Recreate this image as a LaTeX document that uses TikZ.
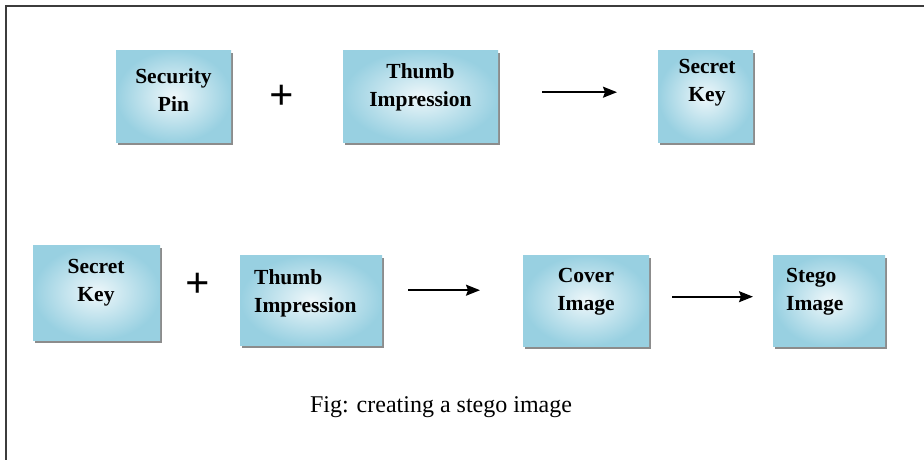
\documentclass[tikz,border=0pt]{standalone}
\usepackage{fontspec}
\setmainfont{Liberation Serif}
\usetikzlibrary{arrows.meta,shadows}
\definecolor{boxdark}{RGB}{152,208,225}
\definecolor{boxlight}{RGB}{238,247,250}
\definecolor{framegray}{RGB}{60,60,60}
\tikzset{
  stepbox/.style={draw=none, inner sep=0pt, anchor=north west,
    inner color=boxlight, outer color=boxdark,
    drop shadow={shadow xshift=1.5pt, shadow yshift=-3pt, fill=black!45, opacity=1}},
  boxtext/.style={font=\fontsize{21.5}{28}\selectfont\bfseries, inner sep=0pt, anchor=north},
  boxtextl/.style={font=\fontsize{21.5}{28}\selectfont\bfseries, inner sep=0pt, anchor=north west, align=left},
  plussign/.style={font=\fontsize{43}{43}\selectfont\bfseries, inner sep=0pt},
  flow/.style={line width=1.6pt, -{Stealth[length=14pt,width=11pt,inset=2pt]}},
}
\begin{document}
\begin{tikzpicture}[x=1pt,y=-1pt]
\useasboundingbox (0,0) rectangle (924,460);
\fill[white] (0,0) rectangle (924,460);
\draw[framegray, line width=2pt] (6,461) coordinate (fb) -- (6,6) coordinate (fc) -- (925,6) coordinate (fr);

% top row
\node[stepbox, minimum width=115pt, minimum height=92pt] (pin) at (116,50) {};
\node[boxtext, align=center] (pint) at (173.5,68) {Security\\Pin};
\node[plussign] (plus1) at (282,97) {+};
\node[stepbox, minimum width=155pt, minimum height=92pt] (thumb1) at (343,50) {};
\node[boxtext, align=center] (thumb1t) at (420.5,63) {Thumb\\Impression};
\node[stepbox, minimum width=95pt, minimum height=92pt] (key1) at (658,50) {};
\node[boxtext, align=center] (key1t) at (707,59) {Secret\\Key};
\draw[flow] ([xshift=44pt,yshift=4pt]thumb1.east) -- ([xshift=-41pt,yshift=4pt]key1.west);

% bottom row
\node[stepbox, minimum width=127pt, minimum height=95pt] (key2) at (33,245) {};
\node[boxtext, align=center] (key2t) at (96,259) {Secret\\Key};
\node[plussign] (plus2) at (198,285) {+};
\node[stepbox, minimum width=142pt, minimum height=90pt] (thumb2) at (240,255) {};
\node[boxtextl] (thumb2t) at (254,269) {Thumb\\Impression};
\node[stepbox, minimum width=126pt, minimum height=91pt] (cover) at (523,255) {};
\node[boxtext, align=center] (covert) at (586,268) {Cover\\Image};
\node[stepbox, minimum width=112pt, minimum height=91pt] (stego) at (773,255) {};
\node[boxtextl] (stegot) at (786,268) {Stego\\Image};
\draw[flow] ([xshift=26pt,yshift=10pt]thumb2.east) -- ([xshift=-43pt,yshift=10.5pt]cover.west);
\draw[flow] ([xshift=23pt,yshift=4pt]cover.east) -- ([xshift=-20pt,yshift=4pt]stego.west);

% caption
\node[font=\fontsize{24}{28}\selectfont, inner sep=0pt, anchor=base] (cap) at (441,412) {Fig: creating a stego image};
\end{tikzpicture}
\end{document}
